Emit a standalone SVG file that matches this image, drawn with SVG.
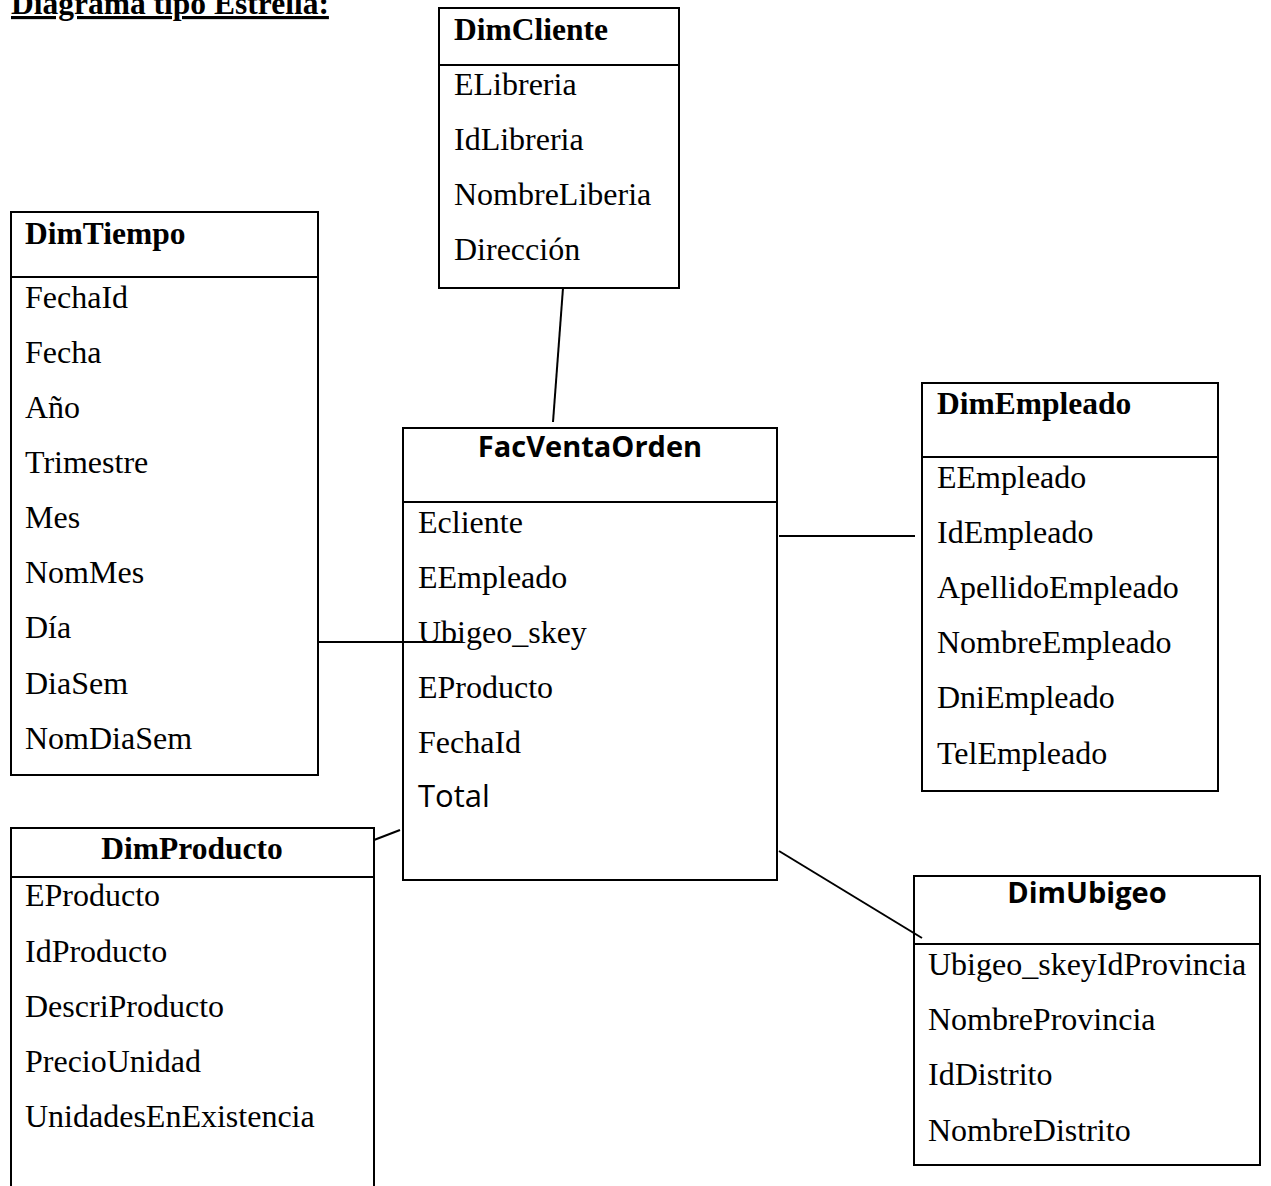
<svg xmlns="http://www.w3.org/2000/svg" width="1271" height="1186" viewBox="0 0 1271 1186">
  <style>
    .box { fill: #fff; stroke: #000; stroke-width: 2; }
    .div { stroke: #000; stroke-width: 2; }
    .t { font-family: "Liberation Serif", "Times New Roman", serif; font-size: 32px; fill: #000; }
    .h { font-family: "Liberation Serif", "Times New Roman", serif; font-size: 31.5px; font-weight: bold; fill: #000; }
    .hs { font-family: "Open Sans", "DejaVu Sans", sans-serif; font-size: 29px; font-weight: bold; fill: #000; }
    .ts { font-family: "Open Sans", "DejaVu Sans", sans-serif; font-size: 31px; fill: #000; }
    .conn line { stroke: #000; stroke-width: 2; }
  </style>
  <rect width="1271" height="1186" fill="#fff"/>

  <!-- heading -->
  <text x="11" y="14" class="h" font-size="33" text-decoration="underline">Diagrama tipo Estrella:</text>

  <g id="DimCliente">
    <rect class="box" x="439" y="8" width="240" height="280"/>
    <line class="div" x1="439" y1="65" x2="679" y2="65"/>
    <text class="h" x="454" y="40">DimCliente</text>
    <text class="t" x="454" y="95">ELibreria</text>
    <text class="t" x="454" y="150">IdLibreria</text>
    <text class="t" x="454" y="205">NombreLiberia</text>
    <text class="t" x="454" y="260">Dirección</text>
  </g>

  <g id="DimTiempo">
    <rect class="box" x="11" y="212" width="307" height="563"/>
    <line class="div" x1="11" y1="277" x2="318" y2="277"/>
    <text class="h" x="25" y="244">DimTiempo</text>
    <text class="t" x="25" y="308">FechaId</text>
    <text class="t" x="25" y="363">Fecha</text>
    <text class="t" x="25" y="418">Año</text>
    <text class="t" x="25" y="473">Trimestre</text>
    <text class="t" x="25" y="528">Mes</text>
    <text class="t" x="25" y="583">NomMes</text>
    <text class="t" x="25" y="638">Día</text>
    <text class="t" x="25" y="694">DiaSem</text>
    <text class="t" x="25" y="749">NomDiaSem</text>
  </g>

  <g id="FacVentaOrden">
    <rect class="box" x="403" y="428" width="374" height="452"/>
    <line class="div" x1="403" y1="502" x2="777" y2="502"/>
    <text class="hs" x="590" y="457" text-anchor="middle">FacVentaOrden</text>
    <text class="t" x="418" y="533">Ecliente</text>
    <text class="t" x="418" y="588">EEmpleado</text>
    <text class="t" x="418" y="643">Ubigeo_skey</text>
    <text class="t" x="418" y="698">EProducto</text>
    <text class="t" x="418" y="753">FechaId</text>
    <text class="ts" x="418" y="807">Total</text>
  </g>

  <g id="DimEmpleado">
    <rect class="box" x="922" y="383" width="296" height="408"/>
    <line class="div" x1="922" y1="457" x2="1218" y2="457"/>
    <text class="h" x="937" y="414">DimEmpleado</text>
    <text class="t" x="937" y="488">EEmpleado</text>
    <text class="t" x="937" y="543">IdEmpleado</text>
    <text class="t" x="937" y="598">ApellidoEmpleado</text>
    <text class="t" x="937" y="653">NombreEmpleado</text>
    <text class="t" x="937" y="708">DniEmpleado</text>
    <text class="t" x="937" y="764">TelEmpleado</text>
  </g>

  <g id="DimProducto">
    <path class="box" d="M11 1187 V828 H374 V1187"/>
    <line class="div" x1="11" y1="877" x2="374" y2="877"/>
    <text class="h" x="192" y="859" text-anchor="middle">DimProducto</text>
    <text class="t" x="25" y="906">EProducto</text>
    <text class="t" x="25" y="962">IdProducto</text>
    <text class="t" x="25" y="1017">DescriProducto</text>
    <text class="t" x="25" y="1072">PrecioUnidad</text>
    <text class="t" x="25" y="1127">UnidadesEnExistencia</text>
  </g>

  <g id="DimUbigeo">
    <rect class="box" x="914" y="876" width="346" height="289"/>
    <line class="div" x1="914" y1="944" x2="1260" y2="944"/>
    <text class="hs" x="1087" y="903" text-anchor="middle">DimUbigeo</text>
    <text class="t" x="928" y="975">Ubigeo_skeyIdProvincia</text>
    <text class="t" x="928" y="1030">NombreProvincia</text>
    <text class="t" x="928" y="1085">IdDistrito</text>
    <text class="t" x="928" y="1141">NombreDistrito</text>
  </g>

  <g id="connectors" class="conn">
    <line x1="563" y1="288" x2="553" y2="422"/>
    <line x1="318" y1="642" x2="460" y2="642"/>
    <line x1="779" y1="536" x2="915" y2="536"/>
    <line x1="374" y1="840" x2="400" y2="830"/>
    <line x1="779" y1="851" x2="922" y2="938"/>
  </g>
</svg>
